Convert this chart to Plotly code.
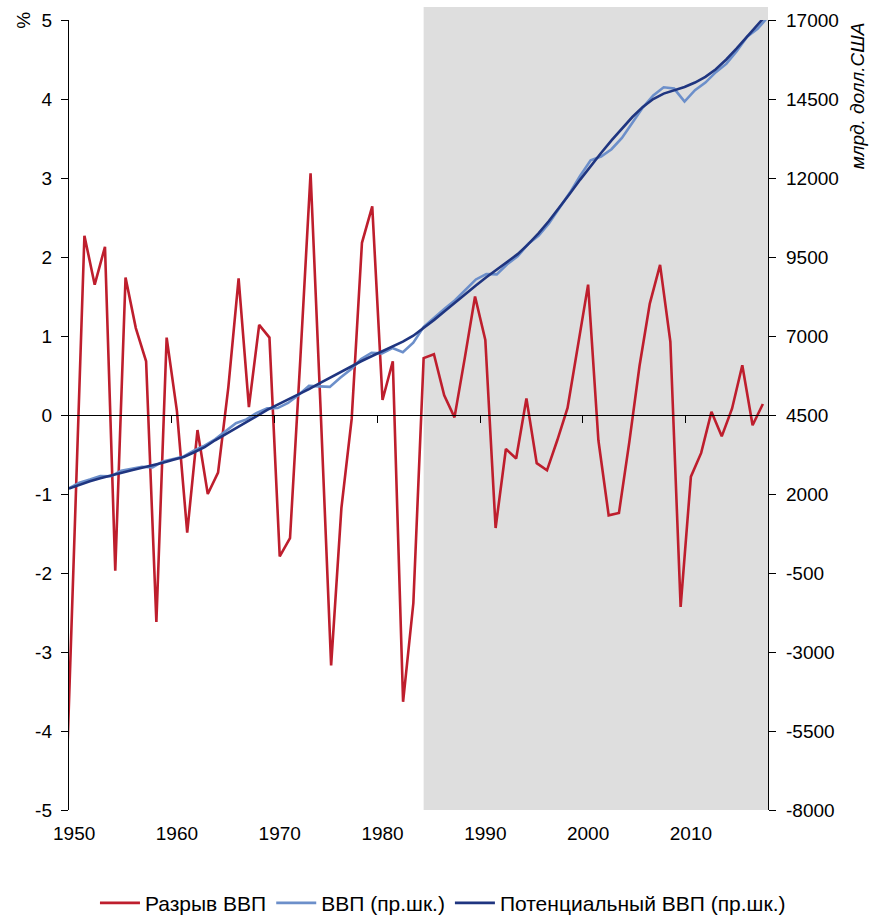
import plotly.graph_objects as go

# ---- data ----
gap_years = list(range(1949, 2018))
gap_values = [
    -5.6, -1.65, 2.27, 1.65, 2.13, -1.97, 1.74, 1.10, 0.68, -2.62, 0.98,
    0.05, -1.49, -0.19, -1.00, -0.73, 0.35, 1.73, 0.10, 1.14, 0.98,
    -1.79, -1.56, 0.70, 3.06, 0.00, -3.17, -1.18, -0.05, 2.18, 2.64,
    0.19, 0.68, -3.63, -2.38, 0.72, 0.77, 0.25, -0.03, 0.72, 1.50,
    0.95, -1.43, -0.43, -0.55, 0.21, -0.61, -0.70, -0.32, 0.09, 0.88,
    1.65, -0.32, -1.27, -1.24, -0.35, 0.62, 1.41, 1.90, 0.93, -2.43,
    -0.78, -0.48, 0.04, -0.27, 0.08, 0.63, -0.13, 0.14,
]

gdp_years = list(range(1950, 2018))
gdp_values = [
    2180, 2360, 2460, 2570, 2560, 2740, 2800, 2860, 2840, 3030,
    3110, 3190, 3380, 3530, 3730, 3980, 4240, 4360, 4570, 4710,
    4720, 4880, 5130, 5420, 5400, 5390, 5680, 5940, 6270, 6470,
    6450, 6620, 6490, 6790, 7290, 7590, 7860, 8130, 8470, 8790,
    8960, 8950, 9270, 9520, 9910, 10170, 10560, 11030, 11530, 12070,
    12560, 12680, 12910, 13270, 13770, 14230, 14610, 14870, 14830, 14420,
    14780, 15020, 15350, 15610, 16010, 16470, 16720, 17100,
]
potential_values = [
    2170, 2290, 2400, 2500, 2590, 2670, 2750, 2830, 2900, 2990,
    3080, 3170, 3320, 3480, 3700, 3890, 4090, 4290, 4470, 4660,
    4830, 4990, 5150, 5320, 5500, 5680, 5860, 6030, 6200, 6360,
    6510, 6660, 6820, 7010, 7250, 7510, 7780, 8060, 8330, 8600,
    8860, 9100, 9330, 9590, 9900, 10250, 10640, 11060, 11500, 11950,
    12380, 12790, 13190, 13570, 13930, 14250, 14500, 14670, 14780, 14880,
    15020, 15200, 15440, 15750, 16100, 16470, 16840, 17220,
]

shade_start = 1984
x_labels = [1950, 1960, 1970, 1980, 1990, 2000, 2010]
x_ticks = [1959.5, 1969.5, 1979.5, 1989.5, 1999.5, 2009.5]
left_ticks = [-5, -4, -3, -2, -1, 0, 1, 2, 3, 4, 5]
right_ticks = [-8000, -5500, -3000, -500, 2000, 4500, 7000, 9500, 12000, 14500, 17000]

names = ["Разрыв ВВП", "ВВП (пр.шк.)", "Потенциальный ВВП (пр.шк.)"]
colors = ["#BE1E2D", "#6C8FCA", "#1F3580"]

FONT = "Liberation Sans, Arial, sans-serif"
NARROW = "Liberation Sans Narrow, Arial Narrow, Liberation Sans, Arial, sans-serif"

fig = go.Figure()
fig.add_trace(go.Scatter(x=gap_years, y=gap_values, mode="lines", name=names[0],
                         line=dict(color=colors[0], width=2.6)))
fig.add_trace(go.Scatter(x=gdp_years, y=gdp_values, mode="lines", name=names[1],
                         xaxis="x2", yaxis="y2",
                         line=dict(color=colors[1], width=2.6)))
fig.add_trace(go.Scatter(x=gdp_years, y=potential_values, mode="lines", name=names[2],
                         xaxis="x2", yaxis="y2",
                         line=dict(color=colors[2], width=2.6)))
# carrier for the category axis drawn through zero
fig.add_trace(go.Scatter(x=[gap_years[1]], y=[0], mode="markers", xaxis="x3", yaxis="y",
                         marker=dict(opacity=0), showlegend=False, hoverinfo="skip"))

tickfont = dict(family=FONT, size=19, color="#000000")

fig.update_layout(
    width=870, height=915,
    margin=dict(l=69, r=102, t=20, b=105, autoexpand=False),
    paper_bgcolor="white", plot_bgcolor="rgba(0,0,0,0)",
    showlegend=True,
    legend=dict(orientation="h", x=0.535, xanchor="center", y=-0.118, yanchor="middle",
                font=dict(family=NARROW, size=21, color="#000000"),
                itemwidth=40, tracegroupgap=0, bgcolor="rgba(0,0,0,0)"),
    xaxis=dict(range=[1949.5, 2017.5], tickvals=x_labels, ticktext=[str(v) for v in x_labels],
               showline=False, showgrid=False, zeroline=False, ticks="outside", ticklen=0,
               ticklabelstandoff=6, tickfont=tickfont, automargin=False),
    xaxis2=dict(range=[gdp_years[0], gdp_years[-1]], overlaying="x", anchor="y2",
                visible=False, showgrid=False, zeroline=False),
    xaxis3=dict(range=[1949.5, 2017.5], overlaying="x", anchor="free", position=0.5,
                showline=True, linecolor="#000000", linewidth=1.4,
                ticks="outside", tickvals=x_ticks, ticklen=7, tickwidth=1.4, tickcolor="#000000",
                showticklabels=False, showgrid=False, zeroline=False, automargin=False),
    yaxis=dict(range=[-5, 5], tickvals=left_ticks, ticktext=[str(v) for v in left_ticks],
               showline=True, linecolor="#000000",
               linewidth=1.4, ticks="outside", ticklen=7, tickwidth=1.4, tickcolor="#000000",
               showgrid=False, zeroline=False, tickfont=tickfont, ticklabelstandoff=5,
               automargin=False),
    yaxis2=dict(range=[-8000, 17000], tickvals=right_ticks, ticktext=[str(v) for v in right_ticks],
                overlaying="y", side="right",
                anchor="x", showline=True, linecolor="#000000", linewidth=1.4,
                ticks="outside", ticklen=7, tickwidth=1.4, tickcolor="#000000",
                showgrid=False, zeroline=False, tickfont=tickfont, ticklabelstandoff=6,
                automargin=False),
    shapes=[dict(type="rect", xref="x", yref="paper", x0=shade_start, x1=2017.7,
                 y0=0, y1=1.0165, fillcolor="#DEDEDE", line=dict(width=0), layer="below")],
    annotations=[
        dict(text="%", xref="paper", yref="paper", x=-0.066, y=1.0, textangle=-90,
             showarrow=False, font=dict(family=FONT, size=19, color="#000000"),
             xanchor="center", yanchor="middle"),
        dict(text="<i>млрд. долл.США</i>", xref="paper", yref="paper", x=1.128, y=0.904,
             textangle=-90, showarrow=False, font=dict(family=FONT, size=19, color="#000000"),
             xanchor="center", yanchor="middle"),
    ],
)

fig.write_html("out.html", config={"displayModeBar": False},
               post_script="document.body.style.margin='0px';")
